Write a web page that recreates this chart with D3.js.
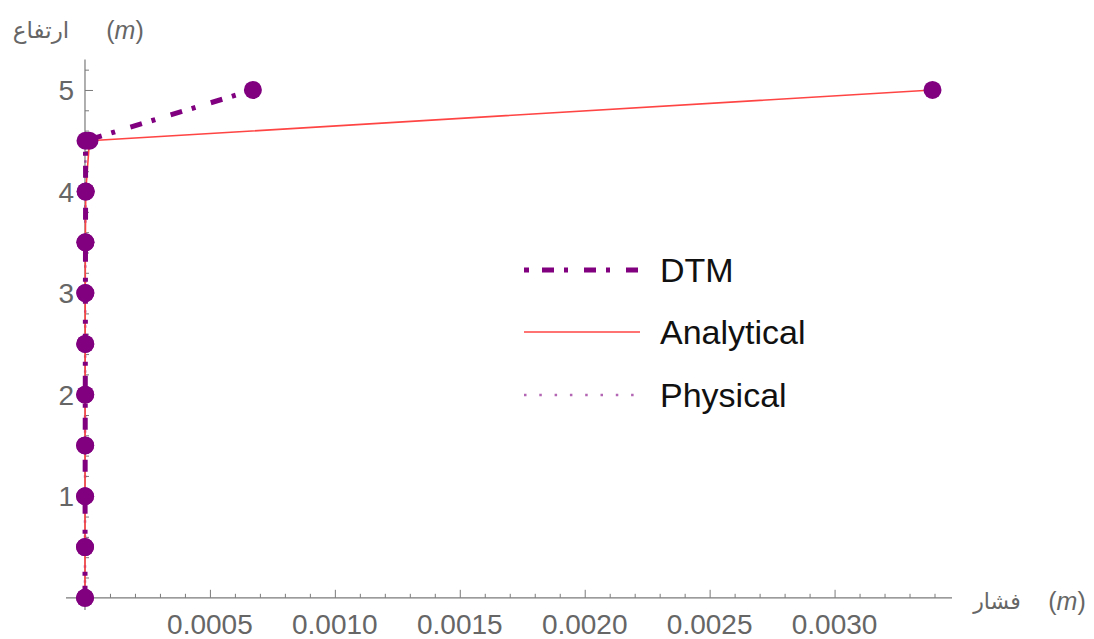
<!DOCTYPE html>
<html><head><meta charset="utf-8">
<script src="https://cdn.jsdelivr.net/npm/d3@7"></script>
<style>body{margin:0;background:#fff}svg{display:block}</style>
</head><body>
<svg id="c" width="1094" height="639"></svg>
<script>
const heights = [0, 0.5, 1, 1.5, 2, 2.5, 3, 3.5, 4, 4.5, 5];
const dtm = [0, 0.0000002, 0.0000005, 0.0000008, 0.0000011, 0.0000014, 0.0000017, 0.000002, 0.0000025, 0.000002, 0.000672];
const analytical = [0, 0.0000001, 0.0000002, 0.0000004, 0.0000006, 0.0000008, 0.000001, 0.0000015, 0.000003, 0.000018, 0.003392];
const physical = [0, 0.0000001, 0.0000003, 0.0000005, 0.0000007, 0.0000009, 0.0000011, 0.0000013, 0.0000016, 0.000002, null];
const xMajor = [0.0005, 0.0010, 0.0015, 0.0020, 0.0025, 0.0030];
const xMajorLabels = ["0.0005", "0.0010", "0.0015", "0.0020", "0.0025", "0.0030"];
const yMajor = [1, 2, 3, 4, 5];
const yMajorLabels = ["1", "2", "3", "4", "5"];
const seriesNames = ["DTM", "Analytical", "Physical"];

const svg = d3.select("#c");
const x = d3.scaleLinear().domain([-0.000076, 0.00347]).range([66, 952]);
const y = d3.scaleLinear().domain([-0.12, 5.3]).range([610, 59.5]);
const axisColor = "#7a7a7a";
const labelColor = "#666";

const xMinor = d3.range(1, 35).map(i => i * 0.0001).filter(v => Math.abs(v / 0.0005 - Math.round(v / 0.0005)) > 1e-6);
const yMinor = d3.range(1, 27).map(i => i * 0.2).filter(v => Math.abs(v - Math.round(v)) > 1e-6);

function ticks(axisFn, scale, vals, size, tr) {
  const g = svg.append("g").attr("transform", tr);
  g.call(axisFn(scale).tickValues(vals).tickSize(size).tickFormat(""));
  g.select(".domain").remove();
  g.selectAll("line").attr("stroke", axisColor);
}
ticks(d3.axisTop, x, xMajor, 8, `translate(0,${y(0)})`);
ticks(d3.axisTop, x, xMinor, 4, `translate(0,${y(0)})`);
ticks(d3.axisRight, y, yMajor, 8, `translate(${x(0)},0)`);
ticks(d3.axisRight, y, yMinor, 4, `translate(${x(0)},0)`);

svg.append("line").attr("x1", x.range()[0]).attr("x2", x.range()[1]).attr("y1", y(0)).attr("y2", y(0)).attr("stroke", axisColor).attr("stroke-width", 1.2);
svg.append("line").attr("x1", x(0)).attr("x2", x(0)).attr("y1", y.range()[0]).attr("y2", y.range()[1]).attr("stroke", axisColor).attr("stroke-width", 1.2);

svg.append("g").selectAll("text").data(xMajor).join("text")
  .attr("x", d => x(d)).attr("y", y(0) + 36).attr("text-anchor", "middle")
  .attr("font-family", "Liberation Sans, Arial, sans-serif").attr("font-size", 28).attr("fill", labelColor)
  .text((d, i) => xMajorLabels[i]);
svg.append("g").selectAll("text").data(yMajor).join("text")
  .attr("x", x(0) - 11).attr("y", d => y(d) + 10).attr("text-anchor", "end")
  .attr("font-family", "Liberation Sans, Arial, sans-serif").attr("font-size", 28).attr("fill", labelColor)
  .text((d, i) => yMajorLabels[i]);

svg.append("text").attr("x", 41).attr("y", 38).attr("text-anchor", "middle")
  .attr("font-family", "DejaVu Sans, sans-serif").attr("font-size", 23).attr("fill", labelColor).text("ارتفاع");
const ym = svg.append("text").attr("x", 125).attr("y", 39).attr("text-anchor", "middle")
  .attr("font-family", "Liberation Sans, Arial, sans-serif").attr("font-size", 25).attr("fill", labelColor);
ym.append("tspan").text("(");
ym.append("tspan").attr("font-style", "italic").text("m");
ym.append("tspan").text(")");
svg.append("text").attr("x", 997).attr("y", 609).attr("text-anchor", "middle")
  .attr("font-family", "DejaVu Sans, sans-serif").attr("font-size", 22).attr("fill", labelColor).text("فشار");
const xm = svg.append("text").attr("x", 1067).attr("y", 610).attr("text-anchor", "middle")
  .attr("font-family", "Liberation Sans, Arial, sans-serif").attr("font-size", 25).attr("fill", labelColor);
xm.append("tspan").text("(");
xm.append("tspan").attr("font-style", "italic").text("m");
xm.append("tspan").text(")");

const purple = "#800080";
const red = "#ff4444";
const line = (vals) => d3.line().defined((d, i) => vals[i] != null)
  .x((d, i) => x(vals[i])).y((d, i) => y(heights[i]))(heights);
svg.append("path").attr("d", line(physical)).attr("fill", "none").attr("stroke", purple).attr("stroke-opacity", 0.6)
  .attr("stroke-width", 2.5).attr("stroke-dasharray", "2.5,12.5");
svg.append("path").attr("d", line(analytical)).attr("fill", "none").attr("stroke", red).attr("stroke-width", 1.6);
svg.append("path").attr("d", line(dtm)).attr("fill", "none").attr("stroke", purple).attr("stroke-width", 5)
  .attr("stroke-dasharray", "12,10,4,16");

svg.append("g").selectAll("circle").data(heights).join("circle")
  .attr("cx", (d, i) => x(analytical[i])).attr("cy", d => y(d)).attr("r", 9).attr("fill", purple);
svg.append("g").selectAll("circle").data(heights).join("circle")
  .attr("cx", (d, i) => x(dtm[i])).attr("cy", d => y(d)).attr("r", 9).attr("fill", purple);

const leg = svg.append("g");
const ly = [270, 332, 395];
const styles = [
  {stroke: purple, w: 5, dash: "5,13,12,10,4,16,12,10,4,16,12,10", op: 1},
  {stroke: red, w: 1.6, dash: null, op: 1},
  {stroke: purple, w: 2.5, dash: "2.5,12.8", op: 0.6}
];
seriesNames.forEach((n, i) => {
  const s = styles[i];
  const l = leg.append("line").attr("x1", 524).attr("x2", 640).attr("y1", ly[i]).attr("y2", ly[i])
    .attr("stroke", s.stroke).attr("stroke-width", s.w).attr("stroke-opacity", s.op);
  if (s.dash) l.attr("stroke-dasharray", s.dash);
  leg.append("text").attr("x", 660).attr("y", ly[i] + 12).attr("font-family", "Liberation Sans, Arial, sans-serif")
    .attr("font-size", 34).attr("fill", "#111").text(n);
});
</script>
</body></html>
